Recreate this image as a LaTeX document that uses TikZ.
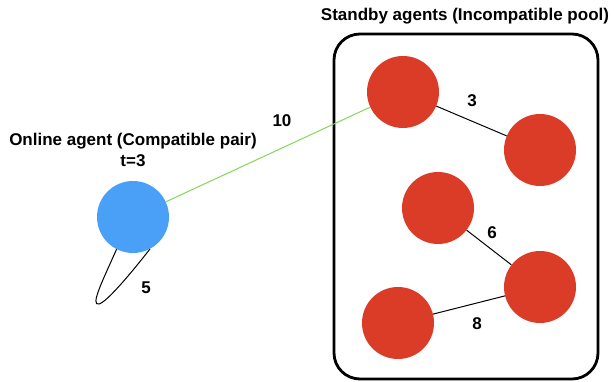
\documentclass[tikz,border=0pt]{standalone}
\usepackage{fontspec}
\setmainfont{Liberation Sans}
\begin{document}
\begin{tikzpicture}[x=1pt,y=-1pt,
  agentred/.style={circle,fill=poolred,minimum size=72pt,inner sep=0pt},
  agentblue/.style={circle,fill=onlineblue,minimum size=72pt,inner sep=0pt},
  lbl/.style={font=\bfseries\fontsize{17}{19}\selectfont,inner sep=0pt},
  edge/.style={line width=1pt,black}]
\definecolor{poolred}{HTML}{DA3C28}
\definecolor{onlineblue}{HTML}{4AA0F6}
\definecolor{matchgreen}{HTML}{80D85A}
\useasboundingbox (0,0) rectangle (614,382);

% pool container
\draw[line width=2.8pt,rounded corners=26pt] (334,34) rectangle (598,379);
\node[lbl] (pooltitle) at (465,16) {Standby agents (Incompatible pool)};

% standby agents
\node[agentred] (a) at (403,92) {};
\node[agentred] (b) at (540,150) {};
\node[agentred] (c) at (438,208) {};
\node[agentred] (d) at (540,287) {};
\node[agentred] (e) at (398,323) {};

% online agent
\node[agentblue] (o) at (133,217) {};
\node[lbl] (otitle) at (133,141) {Online agent (Compatible pair)};
\node[lbl] (otime) at (133,161) {t=3};

% edges
\draw[matchgreen,line width=1pt] (o) -- (a);
\draw[edge] (a) -- (b);
\draw[edge] (c) -- (d);
\draw[edge] (e) -- (d);
\draw[edge] (o.-117) .. controls (102,282) and (90,306) .. (99,304)
  .. controls (107,302) and (132,272) .. (o.-62);

% weights
\node[lbl] (w10) at (282,121) {10};
\node[lbl] (w3) at (472,101) {3};
\node[lbl] (w6) at (492,233) {6};
\node[lbl] (w8) at (477,324) {8};
\node[lbl] (w5) at (146,288) {5};
\end{tikzpicture}
\end{document}
